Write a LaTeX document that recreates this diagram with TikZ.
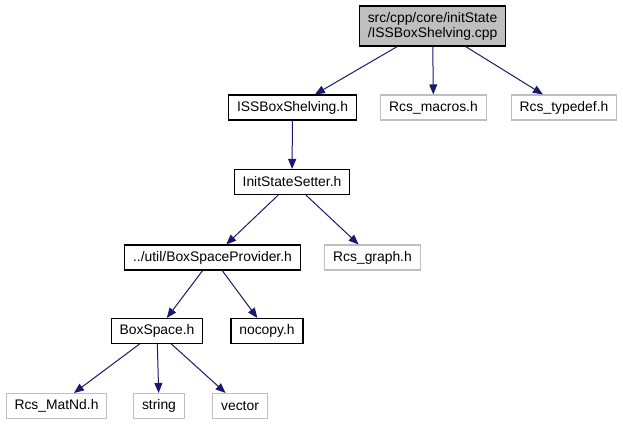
\documentclass[tikz,border=0pt]{standalone}
\usepackage{fontspec}
\setmainfont{Liberation Sans}
\usetikzlibrary{arrows.meta}
\begin{document}
\begin{tikzpicture}[x=0.75pt, y=-0.75pt, >={Triangle[length=7.5pt,width=6pt]},
		font=\fontsize{10.4}{11.3}\selectfont,
		box/.style={draw=black, line width=0.8pt, rectangle, minimum height=18.75pt, inner xsep=6.3pt, inner ysep=0pt},
		ghost/.style={box, draw=edgegray},
		dep/.style={->, midnight, line width=0.75pt}]
		\definecolor{midnight}{RGB}{25,25,112}
		\definecolor{edgegray}{RGB}{191,191,191}
		
		\useasboundingbox (0,0) rectangle (623,425);
		
		% 根文件
		\node[box, fill=edgegray, align=center, minimum width=110pt, minimum height=30pt] (cpp) at (432.5,26) {src/cpp/core/initState\\/ISSBoxShelving.cpp};
		
		% 第一层
		\node[box] (shelving) at (292.5,107.5) {ISSBoxShelving.h};
		\node[ghost] (macros) at (433.5,107.5) {Rcs\_macros.h};
		\node[ghost] (typedef) at (564,107.5) {Rcs\_typedef.h};
		
		% 第二、三层
		\node[box] (setter) at (292,182) {InitStateSetter.h};
		\node[box] (provider) at (212.5,257.5) {../util/BoxSpaceProvider.h};
		\node[ghost] (graph) at (372.5,257.5) {Rcs\_graph.h};
		
		% 第四、五层
		\node[box] (boxspace) at (157,331) {BoxSpace.h};
		\node[box] (nocopy) at (267,331) {nocopy.h};
		\node[ghost] (matnd) at (56.5,406) {Rcs\_MatNd.h};
		\node[ghost] (string) at (159,406) {string};
		\node[ghost] (vector) at (240,406) {vector};
		
		% 依赖关系
		\draw[dep] (cpp) -- (shelving);
		\draw[dep] (cpp) -- (macros);
		\draw[dep] (cpp) -- (typedef);
		\draw[dep] (shelving) -- (setter);
		\draw[dep] (setter) -- (provider);
		\draw[dep] (setter) -- (graph);
		\draw[dep] (provider) -- (boxspace);
		\draw[dep] (provider) -- (nocopy);
		\draw[dep] (boxspace) -- (matnd);
		\draw[dep] (boxspace) -- (string);
		\draw[dep] (boxspace) -- (vector);
	\end{tikzpicture}
\end{document}
